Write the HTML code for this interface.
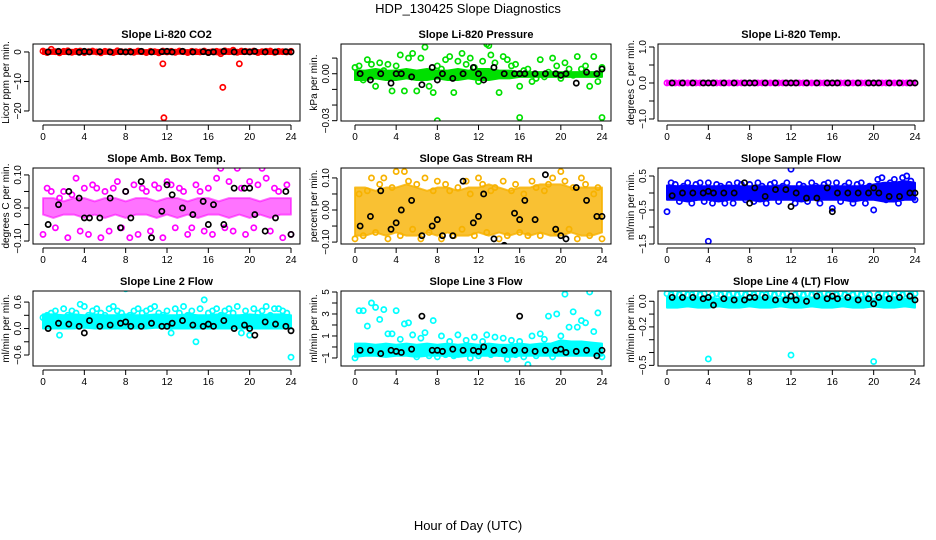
<!DOCTYPE html>
<html><head><meta charset="utf-8"><title>HDP_130425 Slope Diagnostics</title>
<style>
html,body{margin:0;padding:0;background:#fff;}
svg{display:block;font-family:"Liberation Sans",sans-serif;}
</style></head>
<body>
<svg id="chart" width="936" height="540" viewBox="0 0 936 540" xmlns="http://www.w3.org/2000/svg">
<rect x="0" y="0" width="936" height="540" fill="#fff"/>
<text x="468" y="13" text-anchor="middle" font-size="13">HDP_130425  Slope Diagnostics</text>
<text x="468" y="530" text-anchor="middle" font-size="13">Hour of Day (UTC)</text>
</svg>
<script>
// ---- data ----
const panelTitles = ["Slope Li-820 CO2","Slope Li-820 Pressure","Slope Li-820 Temp.","Slope Amb. Box Temp.","Slope Gas Stream RH","Slope Sample Flow","Slope Line 2 Flow","Slope Line 3 Flow","Slope Line 4 (LT) Flow"];
const yLabels = ["Licor ppm per min.","kPa per min.","degrees C per min.","degrees C per min.","percent per min.","ml/min per min.","ml/min per min.","ml/min per min.","ml/min per min."];
const yLimits = [[-23.4,2.7],[-0.0302,0.019],[-1.056,1.083],[-0.109,0.121],[-0.106,0.131],[-1.5,0.735],[-0.849,0.851],[-1.73,5.09],[-0.505,0.08]];
const yTicks = [[-20,-10,0],[-0.03,-0.02,-0.01,0,0.01],[-1,-0.5,0,0.5,1],[-0.1,-0.05,0,0.05,0.1],[-0.1,-0.05,0,0.05,0.1],[-1.5,-1,-0.5,0,0.5],[-0.6,-0.3,0,0.3,0.6],[-1,0,1,2,3,4,5],[-0.5,-0.4,-0.3,-0.2,-0.1,0]];
const yTickLabels = [["−20","−10","0"],["−0.03","","","0.00",""],["−1.0","","0.0","","1.0"],["−0.10","","0.00","","0.10"],["−0.10","","0.00","","0.10"],["−1.5","","−0.5","","0.5"],["−0.6","","0.0","","0.6"],["−1","","1","","3","","5"],["−0.5","","","−0.2","","0.0"]];
const xTicks = [0,4,8,12,16,20,24];
const seriesColors = ["#ff0000","#00e000","#ff00ff","#ff00ff","#f7b200","#0000ff","#00ffff","#00ffff","#00ffff"];
const bandOpacity = [1,1,1,0.55,0.8,1,1,1,1];
const bandHours = [0,1,2,3,4,5,6,7,8,9,10,11,12,13,14,15,16,17,18,19,20,21,22,23,24];
const bandLo = [
[-0.7,-0.6,-0.7,-0.6,-0.7,-0.6,-0.6,-0.7,-0.6,-0.6,-0.7,-0.6,-0.7,-0.6,-0.6,-0.7,-0.6,-0.8,-0.6,-0.7,-0.6,-0.6,-0.7,-0.6,-0.6],
[-0.004,-0.004,-0.003,-0.004,-0.004,-0.003,-0.004,-0.004,-0.003,-0.004,-0.004,-0.003,-0.004,-0.004,-0.003,-0.003,-0.002,-0.002,-0.002,-0.002,-0.002,-0.002,-0.002,-0.002,-0.002],
[-0.03,-0.03,-0.03,-0.03,-0.03,-0.03,-0.03,-0.03,-0.03,-0.03,-0.03,-0.03,-0.03,-0.03,-0.03,-0.03,-0.03,-0.03,-0.03,-0.03,-0.03,-0.03,-0.03,-0.03,-0.03],
[-0.02,-0.03,-0.02,-0.02,-0.03,-0.02,-0.03,-0.02,-0.03,-0.02,-0.02,-0.03,-0.02,-0.03,-0.02,-0.03,-0.02,-0.02,-0.03,-0.02,-0.03,-0.02,-0.03,-0.02,-0.02],
[-0.08,-0.08,-0.07,-0.08,-0.07,-0.08,-0.08,-0.07,-0.08,-0.07,-0.08,-0.08,-0.07,-0.08,-0.07,-0.08,-0.07,-0.08,-0.07,-0.08,-0.08,-0.07,-0.08,-0.08,-0.07],
[-0.2,-0.2,-0.25,-0.2,-0.2,-0.25,-0.2,-0.2,-0.2,-0.25,-0.2,-0.2,-0.2,-0.25,-0.2,-0.2,-0.2,-0.2,-0.25,-0.2,-0.2,-0.25,-0.25,-0.2,-0.2],
[0,0,0,0,0.02,0,0,0,0,0,0,0.02,0,0,0,0,0,0,0,0,0,0,0,0,0],
[-0.9,-0.8,-0.8,-0.9,-0.8,-0.8,-0.9,-0.8,-0.8,-0.8,-0.9,-0.8,-0.8,-0.8,-0.8,-0.9,-0.8,-0.8,-0.8,-0.8,-0.8,-0.8,-0.8,-0.8,-0.8],
[-0.05,-0.05,-0.04,-0.05,-0.05,-0.04,-0.05,-0.05,-0.04,-0.05,-0.05,-0.04,-0.05,-0.05,-0.04,-0.05,-0.05,-0.04,-0.05,-0.05,-0.04,-0.05,-0.05,-0.04,-0.05]];
const bandHi = [
[0.7,0.8,0.6,0.7,0.6,0.7,0.6,0.6,0.7,0.6,0.6,0.7,0.6,0.7,0.6,0.6,0.7,0.8,0.9,0.6,0.7,0.6,0.6,0.7,0.6],
[0.002,0.002,0.003,0.002,0.002,0.003,0.002,0.003,0.002,0.002,0.003,0.002,0.003,0.003,0.002,0.002,0.001,0.001,0.001,0.001,0.001,0.001,0.001,0.001,0.001],
[0.03,0.03,0.03,0.03,0.03,0.03,0.03,0.03,0.03,0.03,0.03,0.03,0.03,0.03,0.03,0.03,0.03,0.03,0.03,0.03,0.03,0.03,0.03,0.03,0.03],
[0.03,0.03,0.02,0.03,0.03,0.02,0.03,0.03,0.02,0.03,0.03,0.02,0.03,0.03,0.02,0.03,0.03,0.02,0.03,0.03,0.03,0.02,0.03,0.03,0.03],
[0.07,0.07,0.06,0.07,0.07,0.08,0.07,0.06,0.07,0.07,0.06,0.07,0.07,0.08,0.07,0.06,0.07,0.07,0.08,0.08,0.08,0.07,0.07,0.07,0.07],
[0.22,0.2,0.22,0.2,0.2,0.2,0.22,0.2,0.2,0.2,0.2,0.22,0.2,0.2,0.2,0.22,0.2,0.2,0.2,0.2,0.25,0.3,0.3,0.35,0.3],
[0.32,0.32,0.3,0.32,0.3,0.32,0.3,0.3,0.32,0.3,0.3,0.32,0.3,0.3,0.32,0.3,0.3,0.32,0.3,0.3,0.32,0.3,0.32,0.32,0.3],
[0.3,0.3,0.2,0.3,0.2,0.3,0.2,0.3,0.2,0.3,0.2,0.3,0.2,0.3,0.2,0.2,0.3,0.2,0.3,0.3,0.6,0.5,0.5,0.4,0.3],
[0.03,0.03,0.02,0.03,0.03,0.02,0.03,0.03,0.02,0.03,0.03,0.02,0.03,0.03,0.02,0.03,0.03,0.02,0.03,0.03,0.02,0.03,0.03,0.02,0.03]];
const scatterHours = [0,0.4,0.8,1.2,1.6,2,2.4,2.8,3.2,3.6,4,4.4,4.8,5.2,5.6,6,6.4,6.8,7.2,7.6,8,8.4,8.8,9.2,9.6,10,10.4,10.8,11.2,11.6,12,12.4,12.8,13.2,13.6,14,14.4,14.8,15.2,15.6,16,16.4,16.8,17.2,17.6,18,18.4,18.8,19.2,19.6,20,20.4,20.8,21.2,21.6,22,22.4,22.8,23.2,23.6,24];
const scatterVals = [
[0.3,-0.2,0.9,0.1,-0.3,0.2,0.4,-0.1,0.2,0.3,-0.2,0.1,0.3,0,-0.3,0.2,0.1,-0.2,0.4,0.1,0,0.2,-0.1,0.3,0.1,-0.2,0.2,0.1,-0.3,0.3,0,0.2,-0.1,0.3,0.1,-0.2,0.2,0.1,0,0.3,-0.2,0.1,0.2,-0.6,0.4,0.1,0.6,-0.1,0.3,0.2,0.1,0.3,-0.2,0.1,0.2,0.3,-0.1,0.2,0.1,0,0.2],
[0.004,0.005,-0.004,0.009,0.006,-0.008,0.007,0.002,0.006,-0.011,0.005,0.012,-0.011,0.010,0.013,-0.011,0.010,0.017,-0.008,-0.012,0.005,0.003,0.009,0.011,-0.012,0.008,0.013,0.006,0.010,0.004,-0.005,0.008,0.019,0.012,0.007,-0.012,0.011,0.009,0.005,0.006,-0.008,0.002,0.003,-0.005,-0.003,0.009,-0.002,0.001,0.010,0.005,-0.003,0.007,0.003,-0.001,0.011,0.003,0.005,-0.008,0.011,-0.005,0.004],
[0,0,0,0,0,0,0,0,0,0,0,0,0,0,0,0,0,0,0,0,0,0,0,0,0,0,0,0,0,0,0,0,0,0,0,0,0,0,0,0,0,0,0,0,0,0,0,0,0,0,0,0,0,0,0,0,0,0,0,0,0],
[-0.08,0.06,0.05,-0.06,0.03,0.05,-0.09,0.04,0.09,-0.07,0.06,-0.08,0.07,0.06,-0.09,0.05,-0.07,0.06,0.08,-0.06,0.05,-0.09,0.07,-0.08,0.06,0.05,-0.07,0.07,0.06,-0.09,0.08,0.07,-0.06,0.06,0.05,-0.08,-0.06,0.07,0.05,-0.07,0.06,-0.08,0.09,0.12,-0.06,0.08,-0.07,0.12,0.06,-0.08,0.08,-0.06,0.07,0.12,0.09,-0.07,0.06,0.05,-0.09,0.07,-0.08],
[-0.09,0.05,-0.08,0.06,0.1,-0.07,0.08,0.1,-0.09,0.07,0.12,-0.08,0.12,0.09,-0.06,0.08,-0.09,0.1,-0.07,0.06,0.09,-0.09,0.08,0.06,-0.08,0.07,-0.06,0.09,0.05,-0.08,0.1,0.08,-0.07,0.06,0.07,-0.09,0.09,-0.08,0.06,0.08,-0.07,0.05,-0.08,0.09,0.07,-0.08,0.06,0.08,0.1,-0.07,0.12,0.09,-0.06,0.07,-0.09,0.1,0.08,-0.08,0.05,0.07,-0.09],
[-0.55,0.3,0.25,-0.25,0.2,0.3,-0.3,0.25,0.3,-0.25,0.3,-0.3,0.25,0.2,-0.3,0.25,-0.3,0.3,0.25,-0.2,0.25,-0.25,0.3,0.2,-0.3,0.25,0.3,-0.25,0.2,0.3,0.7,-0.3,0.25,0.2,-0.25,0.3,0.2,-0.3,0.25,0.3,-0.45,0.3,-0.25,0.2,0.3,-0.3,0.25,0.3,-0.3,0.2,-0.5,0.4,0.45,-0.2,0.3,0.4,-0.3,0.45,0.5,0.35,-0.2],
[0.25,0.3,0.35,0.4,-0.15,0.45,0.3,0.4,0.35,0.55,0.5,0.3,0.4,0.45,0.35,0.3,0.45,0.5,0.4,0.35,0.9,0.3,0.4,0.45,0.35,0.4,0.45,0.5,0.35,0.3,0.4,-0.1,0.45,0.35,0.5,0.3,0.4,-0.3,0.45,0.65,0.35,0.4,0.45,0.3,0.4,0.45,0.35,0.5,-0.1,0.4,-0.15,0.45,0.35,0.4,0.5,0.3,0.45,0.45,0.4,0.35,-0.65],
[-1,3.3,3.3,1.9,4,3.6,2.5,3.4,1.2,1.2,3.3,0.7,2.1,2.2,1.1,-0.9,0.8,1.3,-0.8,2.4,-0.9,1.0,-0.7,0.5,-0.8,1.1,-0.6,0.6,-1.0,0.9,-0.8,0.5,1.1,-0.7,0.9,-0.6,0.8,-1.1,0.6,-0.7,0.5,-0.9,-1.6,1.0,-0.8,1.2,0.7,2.8,-0.9,3.0,1.0,4.8,1.8,3.2,1.8,2.4,2.2,5.0,1.4,3.1,-0.9],
[0.06,0.05,0.06,0.05,0.06,0.05,0.05,0.06,0.05,0.06,-0.45,0.05,0.06,0.05,0.06,0.05,0.06,0.05,0.06,0.05,0.06,0.05,0.06,0.05,0.05,0.06,0.05,0.06,0.05,0.06,-0.42,0.05,0.06,0.05,0.06,0.05,0.06,0.05,0.06,0.05,0.06,0.05,0.06,0.05,0.08,0.05,0.06,0.05,0.06,0.05,-0.47,0.05,0.06,0.05,0.06,0.05,0.06,0.05,0.06,0.05,0.06]];
const outlierHours = [[11.6,11.7,17.4,19],[8,16,24,13],[],[],[],[4],[],[],[]];
const outlierVals = [[-4,-22.3,-12,-4],[-0.03,-0.028,-0.028,0.018],[],[],[],[-1.42],[],[],[]];
const blackHours = [0.5,1.5,2.5,3.5,4,4.5,5.5,6.5,7.5,8,8.5,9.5,10.5,11.5,12,12.5,13.5,14.5,15.5,16,16.5,17.5,18.5,19.5,20,20.5,21.5,22.5,23.5,24];
const blackVals = [
[0,0.2,0,-0.1,0.2,0,0.1,0,0.1,0,0,0.2,0,0.1,0.2,0,0.2,0,0.1,-0.2,0,0.2,0,0.1,0,0.2,0,0,0.1,0],
[0,-0.004,0,-0.006,0,0,-0.002,-0.007,0.004,-0.004,0,-0.003,0,0.004,0,-0.004,0.004,0,0,0,0,0,0,0,-0.001,0,-0.006,0.001,0,0.003],
[0,0,0,0,0,0,0,0,0,0,0,0,0,0,0,0,0,0,0,0,0,0,0,0,0,0,0,0,0,0],
[-0.05,0.01,0.05,0.03,-0.03,-0.03,-0.03,0.03,-0.06,0.05,-0.03,0.08,-0.09,-0.01,0.07,0.04,0,-0.02,0.02,-0.05,0.01,-0.05,0.06,0.06,0.06,-0.02,-0.07,-0.03,0.05,-0.08],
[-0.05,-0.02,0.06,-0.06,-0.04,0,0.03,-0.08,-0.05,-0.03,-0.08,-0.08,0.09,-0.04,-0.02,0.05,-0.09,-0.11,-0.01,-0.03,0.03,-0.03,0.11,-0.06,-0.08,-0.09,0.07,0.03,-0.02,-0.02],
[-0.08,0,0,0,0.05,0,0,0,0.3,-0.3,0.15,-0.1,0.1,0.1,-0.4,0,-0.15,-0.15,0.15,-0.55,0,0,0,0,0.15,0,-0.1,-0.1,0,0],
[0.0,0.12,0.1,0.05,-0.1,0.18,0.05,0.08,0.12,0.15,0.05,0.05,0.12,0.05,0.05,0.12,0.18,0.08,0.05,0.1,0.05,0.18,0,0.08,0,-0.15,0.15,0.1,0.05,-0.05],
[-0.3,-0.3,-0.6,-0.3,-0.4,-0.5,-0.2,2.8,-0.3,-0.3,-0.4,-0.2,-0.3,-0.3,-0.4,0,-0.3,-0.3,-0.3,2.8,-0.3,-0.4,-0.3,-0.3,-0.2,-0.5,-0.4,-0.3,-0.8,-0.3],
[0.03,0.03,0.03,0.02,0.03,-0.03,0.02,0.01,0.01,0.03,0.03,0.03,0.01,0.01,0.04,0.01,0,0.04,0.02,0.04,0.02,0.03,0.01,0.02,-0.02,0.03,0.02,0.03,0.04,0.01]];

// ---- layout ----
const colLeft=[33,341,658], colRight=[300,611,924], colX0=[43,355,667], colX24=[291,602,915];
const rowTop=[44,168,291], rowBottom=[121,244,366];
const NS="http://www.w3.org/2000/svg";
const svg=document.getElementById("chart");
function mk(tag,attrs,parent){const e=document.createElementNS(NS,tag);for(const k in attrs)e.setAttribute(k,attrs[k]);(parent||svg).appendChild(e);return e;}

for(let p=0;p<9;p++){
  const c=p%3, r=Math.floor(p/3);
  const L=colLeft[c],R=colRight[c],T=rowTop[r],B=rowBottom[r];
  const ylo=yLimits[p][0], yhi=yLimits[p][1];
  const xs=h=>colX0[c]+(colX24[c]-colX0[c])*h/24;
  const ys=v=>B-(v-ylo)/(yhi-ylo)*(B-T);
  const g=mk("g",{});
  
  
  const clipId="clip"+p;
  const cp=mk("clipPath",{id:clipId},g); mk("rect",{x:L,y:T,width:R-L,height:B-T},cp);
  const title=mk("text",{x:(L+R)/2,y:T-6,"text-anchor":"middle","font-size":"11","font-weight":"bold"},g);
  title.textContent=panelTitles[p];
  
  
  const yl=mk("text",{transform:`translate(${L-24},${(T+B)/2}) rotate(-90)`,"text-anchor":"middle","font-size":"10"},g);
  yl.textContent=yLabels[p];
  
  
  const xa=mk("g",{},g);
  
  
  mk("line",{x1:xs(0),x2:xs(24),y1:B+4,y2:B+4,stroke:"#000","stroke-width":1},xa);
  xTicks.forEach(t=>{mk("line",{x1:xs(t),x2:xs(t),y1:B+4,y2:B+9,stroke:"#000"},xa);
    const tx=mk("text",{x:xs(t),y:B+19,"text-anchor":"middle","font-size":"10"},xa);tx.textContent=t;
    
    });
  const ya=mk("g",{},g);
  
  
  const yt=yTicks[p];
  mk("line",{x1:L-4,x2:L-4,y1:ys(yt[0]),y2:ys(yt[yt.length-1]),stroke:"#000"},ya);
  yt.forEach((t,i)=>{mk("line",{x1:L-9,x2:L-4,y1:ys(t),y2:ys(t),stroke:"#000"},ya);
    if(yTickLabels[p][i]){const tx=mk("text",{transform:`translate(${L-12},${ys(t)}) rotate(-90)`,"text-anchor":"middle","font-size":"10"},ya);tx.textContent=yTickLabels[p][i];
    
    }});
  const d=mk("g",{"clip-path":`url(#${clipId})`},g);
  const col=seriesColors[p];
  let pts=bandHours.map((h,i)=>xs(h)+","+ys(bandHi[p][i]));
  pts=pts.concat(bandHours.map((h,i)=>xs(h)+","+ys(bandLo[p][i])).reverse());
  const band=mk("polygon",{points:pts.join(" "),fill:col,"fill-opacity":bandOpacity[p],stroke:col,"stroke-opacity":bandOpacity[p],"stroke-width":2,"stroke-linejoin":"round"},d);
  
  
  scatterHours.forEach((h,i)=>{const m=mk("circle",{cx:xs(h),cy:ys(scatterVals[p][i]),r:2.6,fill:"none",stroke:col,"stroke-width":1.7},d);
    
    });
  outlierHours[p].forEach((h,i)=>{const m=mk("circle",{cx:xs(h),cy:ys(outlierVals[p][i]),r:2.6,fill:"none",stroke:col,"stroke-width":1.7},d);
    
    });
  blackHours.forEach((h,i)=>{const m=mk("circle",{cx:xs(h),cy:ys(blackVals[p][i]),r:2.6,fill:"none",stroke:"#000","stroke-width":1.7},d);
    
    });
  const box=mk("rect",{x:L,y:T,width:R-L,height:B-T,fill:"none",stroke:"#000","stroke-width":1},g);
  
  
}
</script>
</body></html>
